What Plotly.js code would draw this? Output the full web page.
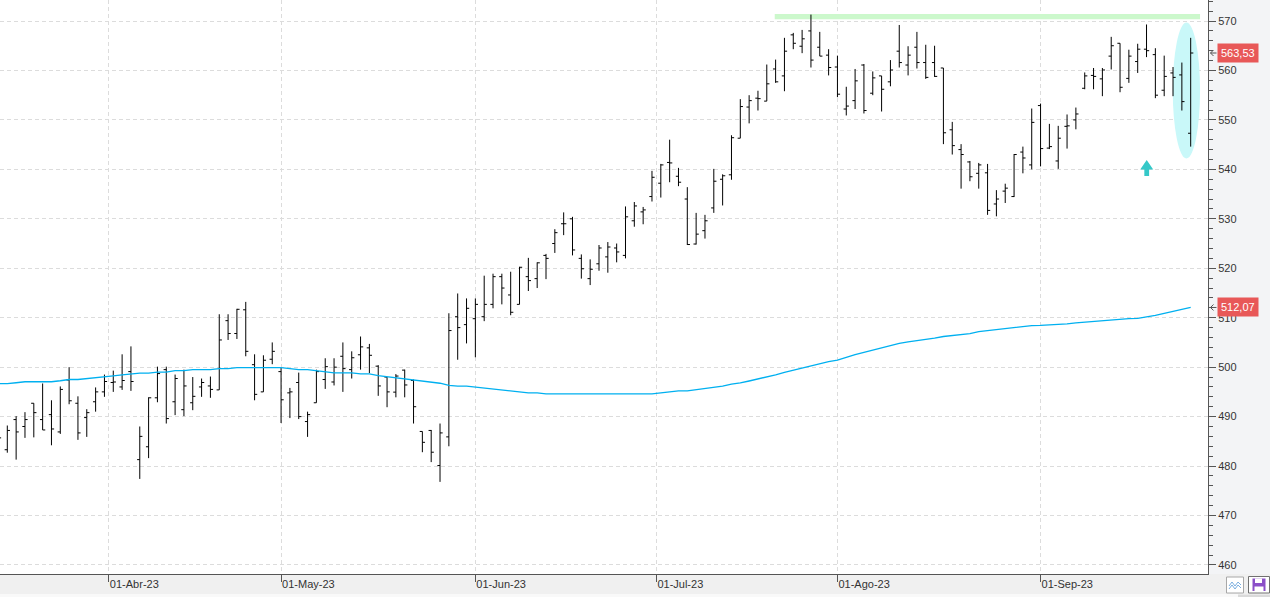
<!DOCTYPE html>
<html>
<head>
<meta charset="utf-8">
<script src="https://cdn.plot.ly/plotly-3.0.1.min.js"></script>
<style>
html,body{margin:0;padding:0;background:#f0f0f0;overflow:hidden}
#chart{width:1270px;height:597px}
</style>
</head>
<body>
<div id="chart"></div>
<script>
// ---- Data (daily OHLC bars, Mar-15-2023 .. Sep-27-2023, one entry per trading session) ----
const opens = [483.5,483.3,489.4,488,492.7,489.4,490.4,486.9,497.4,492.7,489.8,493,495,496.9,496,499.1,481.3,483.9,493.8,499.5,493,491.4,492.8,496,496.2,495.4,509.4,506.8,511.6,500.5,
495,501.6,499.1,494.8,496.9,489,492.8,497.5,497,502.2,499.5,502.5,503.9,500.2,498,494.95,499.4,497.3,487,487.2,480.1,485.9,
510.2,508.6,509.8,510.2,512.7,518.3,514.6,512.7,518.3,517.9,522.6,525,529,530,522,517.9,520.9,522.3,524.1,522.6,529.6,531.4,
534.5,537.2,541.4,538.6,534,524.9,527.6,532.2,538,538.9,546.3,552.6,554.4,553.8,560.3,558.9,567.2,564.9,568,564.7,563.1,560.7,552.2,553.9,
561.1,555.4,558.9,557.7,563.9,561.1,564.7,561.6,561.6,560.5,548,544,541.5,539.2,539.3,533,535.6,534.5,543.5,540.9,552.9,
544.3,541.7,548.7,550,556.4,559,558.3,562.9,565.5,558.4,561.8,564.3,563.2,556,559.5,559.1,547.3];
const highs = [488,488.2,490.1,490.9,492.7,496.7,493.3,496.1,500,494.1,491.5,495.9,498.5,499.3,502.6,504.2,488,493.9,500.1,500.1,498.5,499.5,498,497.7,498.1,510.7,510.7,511.8,513.2,502.6,
502.4,505,499.9,495.8,498.9,491,499.5,501.8,501.8,505,503.2,506.2,504.7,500.4,498,498.6,499.5,497.5,487,487.3,488.6,510.9,
514.9,513.9,513.9,518.5,518.9,518.9,519.3,520.3,522.1,521.2,522.9,527.9,531.3,530.4,522.8,521.8,524.7,525.3,525,532.5,533.4,532.4,
539.7,541.1,546,540.3,536.4,531.2,530.8,540.1,539,546.9,554.2,555,555.9,561.2,562.2,566.6,567.6,568.2,571.3,567.8,564.3,563,556.7,560.3,
561.3,559.8,558.9,562.1,569.2,564.9,567.8,565.2,565,560.5,549.6,545.1,541.7,541.3,541.1,535.8,537.1,543.1,544.6,552.3,553.3,
549.2,548.8,551.1,552.5,559.6,560.5,560.5,566.8,565.5,564.2,565.4,569.3,564.5,563,560.7,561.6,566.6];
const lows = [482.5,482.7,481.3,485.7,485.8,487.3,484.2,486.5,492.5,485.3,485.9,491,494,495,495.4,495.2,477.4,481.6,492.9,488.6,490.3,490.1,491.3,494,493.8,495.4,505.5,505.7,502.2,493.3,
495,500.6,488.7,489.7,489.5,485.9,492.8,495.6,496.3,495,497.7,499.5,498.8,494.2,491.9,493.9,493.9,488.6,482.8,480.8,476.8,484,
501.5,504.8,502,509.3,511.9,512.7,510.5,512.7,515.4,516,517.8,523.1,526.7,522.6,517.9,516.6,519.5,519.1,521.2,522,528.4,528.9,
533.5,534.3,537.4,536.6,524.7,524.8,526,531.2,532.7,537.9,546.3,549.3,551.9,553.8,557.5,555.8,564.3,563.5,560.6,562.9,559,554.6,550.9,552.2,
551.3,555,551.7,556.8,560.6,559,560.4,558.3,558.7,545.1,543,536.1,537.6,536.1,530.8,530.5,533.2,534.4,539.2,540,540.6,
544.1,540.1,544.2,548.1,556.2,556.2,554.8,560.2,555.6,557.5,559.5,562.7,554.4,554.8,554.8,551.9,544.6];
const closes = [485.7,487.2,486.9,489.4,490.8,487.3,487.5,495.5,493.2,486.7,490.8,495,497.1,497,497.3,497.1,486,493.8,498.7,489.6,497.7,496.2,494.1,496.9,495.5,505.5,506.8,511.7,503.2,494.5,
501.4,503.2,493.4,495,490,490.4,499.1,500.1,500,499.7,501.9,504.1,502.4,496.2,495,498.2,496.4,492,484.8,482.8,486.7,507.4,
508,511.9,512.7,512.7,518.3,516,511.1,520.2,517.5,521.1,522,527.2,529,523.7,519.9,519.8,524.1,524.3,523.3,530.4,532.6,531.8,
538.4,540.9,541.3,537.4,524.8,526.9,529.6,537.6,538.7,546.4,552.7,553.9,554.3,557.3,557.7,563.9,565.5,566.4,562.1,562.9,560.6,555.2,552.8,557.9,
551.9,558.5,556.2,560.1,561.6,563.1,561.6,558.6,558.8,547.4,544.8,543,538.5,540.9,531.7,534,536.2,543,542.3,549.5,544.2,
544.6,546.3,548.8,551.2,558.9,558.8,560.1,565,556.6,562.9,564.3,564,555,558.8,558.6,553.7,563.53];
// moving average
const movingAvg = [496.65,496.65,496.85,497.05,497.05,497.05,497.05,497.25,497.5,497.5,497.65,497.85,498.1,498.25,498.45,498.65,498.8,498.8,499.0,499.0,499.3,499.3,499.5,499.5,499.5,499.7,499.7,499.9,499.9,499.8,
499.9,499.9,499.9,499.7,499.5,499.5,499.3,499.1,498.85,498.85,498.85,498.65,498.65,498.3,498.1,497.85,497.65,497.45,497.2,496.95,496.75,496.3,496.15,
496.16,495.95,495.75,495.55,495.35,495.15,494.95,494.8,494.8,494.6,494.6,494.6,494.6,494.6,494.6,494.6,494.6,494.6,494.6,494.6,494.6,494.6,
494.8,495.0,495.2,495.2,495.4,495.6,495.8,496.15,496.56,496.8,497.2,497.6,
497.96,498.45,498.95,499.4,499.9,500.35,500.75,501.1,501.4,502.0,502.55,503.0,503.45,503.85,504.4,504.8,505.1,505.3,505.6,505.85,506.2,506.35,506.6,506.8,507.2,507.4,507.65,507.85,508.0,508.2,508.4,508.45,
508.5,508.6,508.75,508.95,509.1,509.25,509.45,509.6,509.75,509.8,509.85,510.1,510.45,510.9,511.3,511.65,512.07];
// month ticks (session index of the 1st of each month) and their labels
const monthTickPos = [12.5, 32, 54, 74.5, 95, 118];
const monthTickText = ['01-Abr-23','01-May-23','01-Jun-23','01-Jul-23','01-Ago-23','01-Sep-23'];
// resistance level and highlighted sessions
const resistance = {from: 87.9, to: 136.06, lo: 570.35, hi: 571.4};
const highlight = {from: 132.97, to: 136.06, lo: 542.2, hi: 569.7};
const arrowAt = {x: 130.02, tip: 541.9, neck: 539.97, base: 538.66};

const idx = closes.map((_, i) => i);

// ---- Layout geometry ----
const W = 1270, H = 597, MR = 62, MB = 23;
const PW = W - MR, PH = H - MB;
const YR = [458.17, 574.25];
const px = x => x / PW;
const py = y => (PH - y) / PH;
const unitsPerPx = (YR[1] - YR[0]) / PH;

const fmt = v => v.toFixed(2).replace('.', ',');
const lastClose = closes[closes.length - 1];
const lastMA = movingAvg[movingAvg.length - 1];

const traces = [
  {
    type: 'scatter', mode: 'lines', x: idx, y: movingAvg,
    line: {color: '#00b0f0', width: 1.3}, hoverinfo: 'skip'
  },
  {
    type: 'ohlc', x: idx, open: opens, high: highs, low: lows, close: closes,
    increasing: {line: {color: '#000000', width: 1}},
    decreasing: {line: {color: '#000000', width: 1}},
    tickwidth: 0.3, hoverinfo: 'skip'
  }
];

const hw = 0.736, sw = 0.27;
const arrowPath = `M${arrowAt.x},${arrowAt.tip} L${arrowAt.x + hw},${arrowAt.neck} L${arrowAt.x + sw},${arrowAt.neck} L${arrowAt.x + sw},${arrowAt.base} L${arrowAt.x - sw},${arrowAt.base} L${arrowAt.x - sw},${arrowAt.neck} L${arrowAt.x - hw},${arrowAt.neck} Z`;

// small "←" pointer next to a price label
const pointer = v => {
  const d = 3 * unitsPerPx;
  return {type: 'path', xref: 'paper', yref: 'y', layer: 'above', line: {color: '#555', width: 1},
    path: `M${px(1216.5)},${v} L${px(1210.5)},${v} M${px(1213.5)},${v + d} L${px(1210.5)},${v} L${px(1213.5)},${v - d}`};
};

const shapes = [
  // right panel background
  {type: 'rect', xref: 'paper', yref: 'paper', x0: 1, x1: px(W) + 0.01, y0: 0, y1: 1,
   fillcolor: '#f3f4f6', line: {width: 0}, layer: 'below'},
  // bottom strip
  {type: 'rect', xref: 'paper', yref: 'paper', x0: 0, x1: px(W) + 0.01, y0: py(594), y1: py(598),
   fillcolor: '#f9f9f9', line: {width: 0}, layer: 'below'},
  {type: 'rect', xref: 'paper', yref: 'paper', x0: px(1238), x1: px(W) + 0.01, y0: py(594.5), y1: py(598),
   fillcolor: '#dadada', line: {width: 0}, layer: 'below'},
  // resistance band
  {type: 'rect', xref: 'x', yref: 'y', x0: resistance.from, x1: resistance.to, y0: resistance.lo, y1: resistance.hi,
   fillcolor: '#ccf8cc', line: {width: 0}, layer: 'between'},
  // highlight ellipse
  {type: 'circle', xref: 'x', yref: 'y', x0: highlight.from, x1: highlight.to, y0: highlight.lo, y1: highlight.hi,
   fillcolor: '#c9f8f9', line: {width: 0}, layer: 'between'},
  // up arrow
  {type: 'path', xref: 'x', yref: 'y', path: arrowPath, fillcolor: '#35c8c8', line: {width: 0}, layer: 'above'},
  // price pointers
  pointer(lastClose),
  pointer(lastMA),
  // icon button 1
  {type: 'rect', xref: 'paper', yref: 'paper', x0: px(1226.5), x1: px(1243.5), y0: py(593), y1: py(577),
   fillcolor: '#ffffff', line: {color: '#a8a8a8', width: 1}, layer: 'above'},
  {type: 'path', xref: 'paper', yref: 'paper', layer: 'above', line: {color: '#7aaee0', width: 1},
   path: `M${px(1229)},${py(586)} L${px(1232)},${py(582)} L${px(1235)},${py(586)} L${px(1238)},${py(582)} L${px(1241)},${py(585)}`},
  {type: 'path', xref: 'paper', yref: 'paper', layer: 'above', line: {color: '#7aaee0', width: 1},
   path: `M${px(1229)},${py(589)} L${px(1232)},${py(585)} L${px(1235)},${py(589)} L${px(1238)},${py(585)} L${px(1241)},${py(588)}`},
  // icon button 2 (save)
  {type: 'rect', xref: 'paper', yref: 'paper', x0: px(1248.5), x1: px(1269.5), y0: py(593), y1: py(576.5),
   fillcolor: '#ffffff', line: {color: '#707070', width: 1}, layer: 'above'},
  {type: 'rect', xref: 'paper', yref: 'paper', x0: px(1252.5), x1: px(1265.5), y0: py(591), y1: py(578.5),
   fillcolor: '#8b4fc8', line: {width: 0}, layer: 'above'},
  {type: 'rect', xref: 'paper', yref: 'paper', x0: px(1255), x1: px(1262), y0: py(583), y1: py(578.5),
   fillcolor: '#ffffff', line: {width: 0}, layer: 'above'},
  {type: 'rect', xref: 'paper', yref: 'paper', x0: px(1254.5), x1: px(1263.5), y0: py(591), y1: py(586.5),
   fillcolor: '#ffffff', line: {width: 0}, layer: 'above'}
];

const annotations = [
  {xref: 'paper', yref: 'y', x: 1, y: lastClose, xanchor: 'left', xshift: 9, text: fmt(lastClose), showarrow: false,
   font: {size: 11, color: '#ffffff'}, bgcolor: '#e85858', borderpad: 3},
  {xref: 'paper', yref: 'y', x: 1, y: lastMA, xanchor: 'left', xshift: 9, text: fmt(lastMA), showarrow: false,
   font: {size: 11, color: '#ffffff'}, bgcolor: '#e85858', borderpad: 3}
];

const layout = {
  width: W, height: H,
  margin: {l: 0, r: MR, t: 0, b: MB, pad: 0},
  paper_bgcolor: '#f0f0f0', plot_bgcolor: '#ffffff',
  font: {family: '"Liberation Sans", Arial, sans-serif', size: 11, color: '#333'},
  showlegend: false,
  hovermode: false,
  dragmode: false,
  xaxis: {
    type: 'linear', range: [0.173, 136.96], fixedrange: true,
    tickmode: 'array', tickvals: monthTickPos, ticktext: monthTickText,
    ticks: 'outside', ticklen: 7, tickcolor: '#555', tickwidth: 1,
    ticklabelposition: 'outside right',
    tickfont: {size: 11, color: '#333'},
    showgrid: true, gridcolor: '#dcdcdc', griddash: '4px,3px', gridwidth: 1,
    showline: true, linecolor: '#555', linewidth: 1, zeroline: false,
    rangeslider: {visible: false}
  },
  yaxis: {
    side: 'right', range: YR, fixedrange: true,
    tick0: 0, dtick: 10,
    ticks: 'outside', ticklen: 7, tickcolor: '#555', tickwidth: 1,
    tickfont: {size: 11, color: '#333'},
    minor: {ticks: 'outside', ticklen: 4, dtick: 2, tickcolor: '#555', showgrid: false},
    showgrid: true, gridcolor: '#dcdcdc', griddash: '4px,3px', gridwidth: 1,
    showline: true, linecolor: '#555', linewidth: 1, zeroline: false
  },
  shapes: shapes,
  annotations: annotations
};

Plotly.newPlot('chart', traces, layout, {displayModeBar: false, staticPlot: true});
</script>
</body>
</html>
